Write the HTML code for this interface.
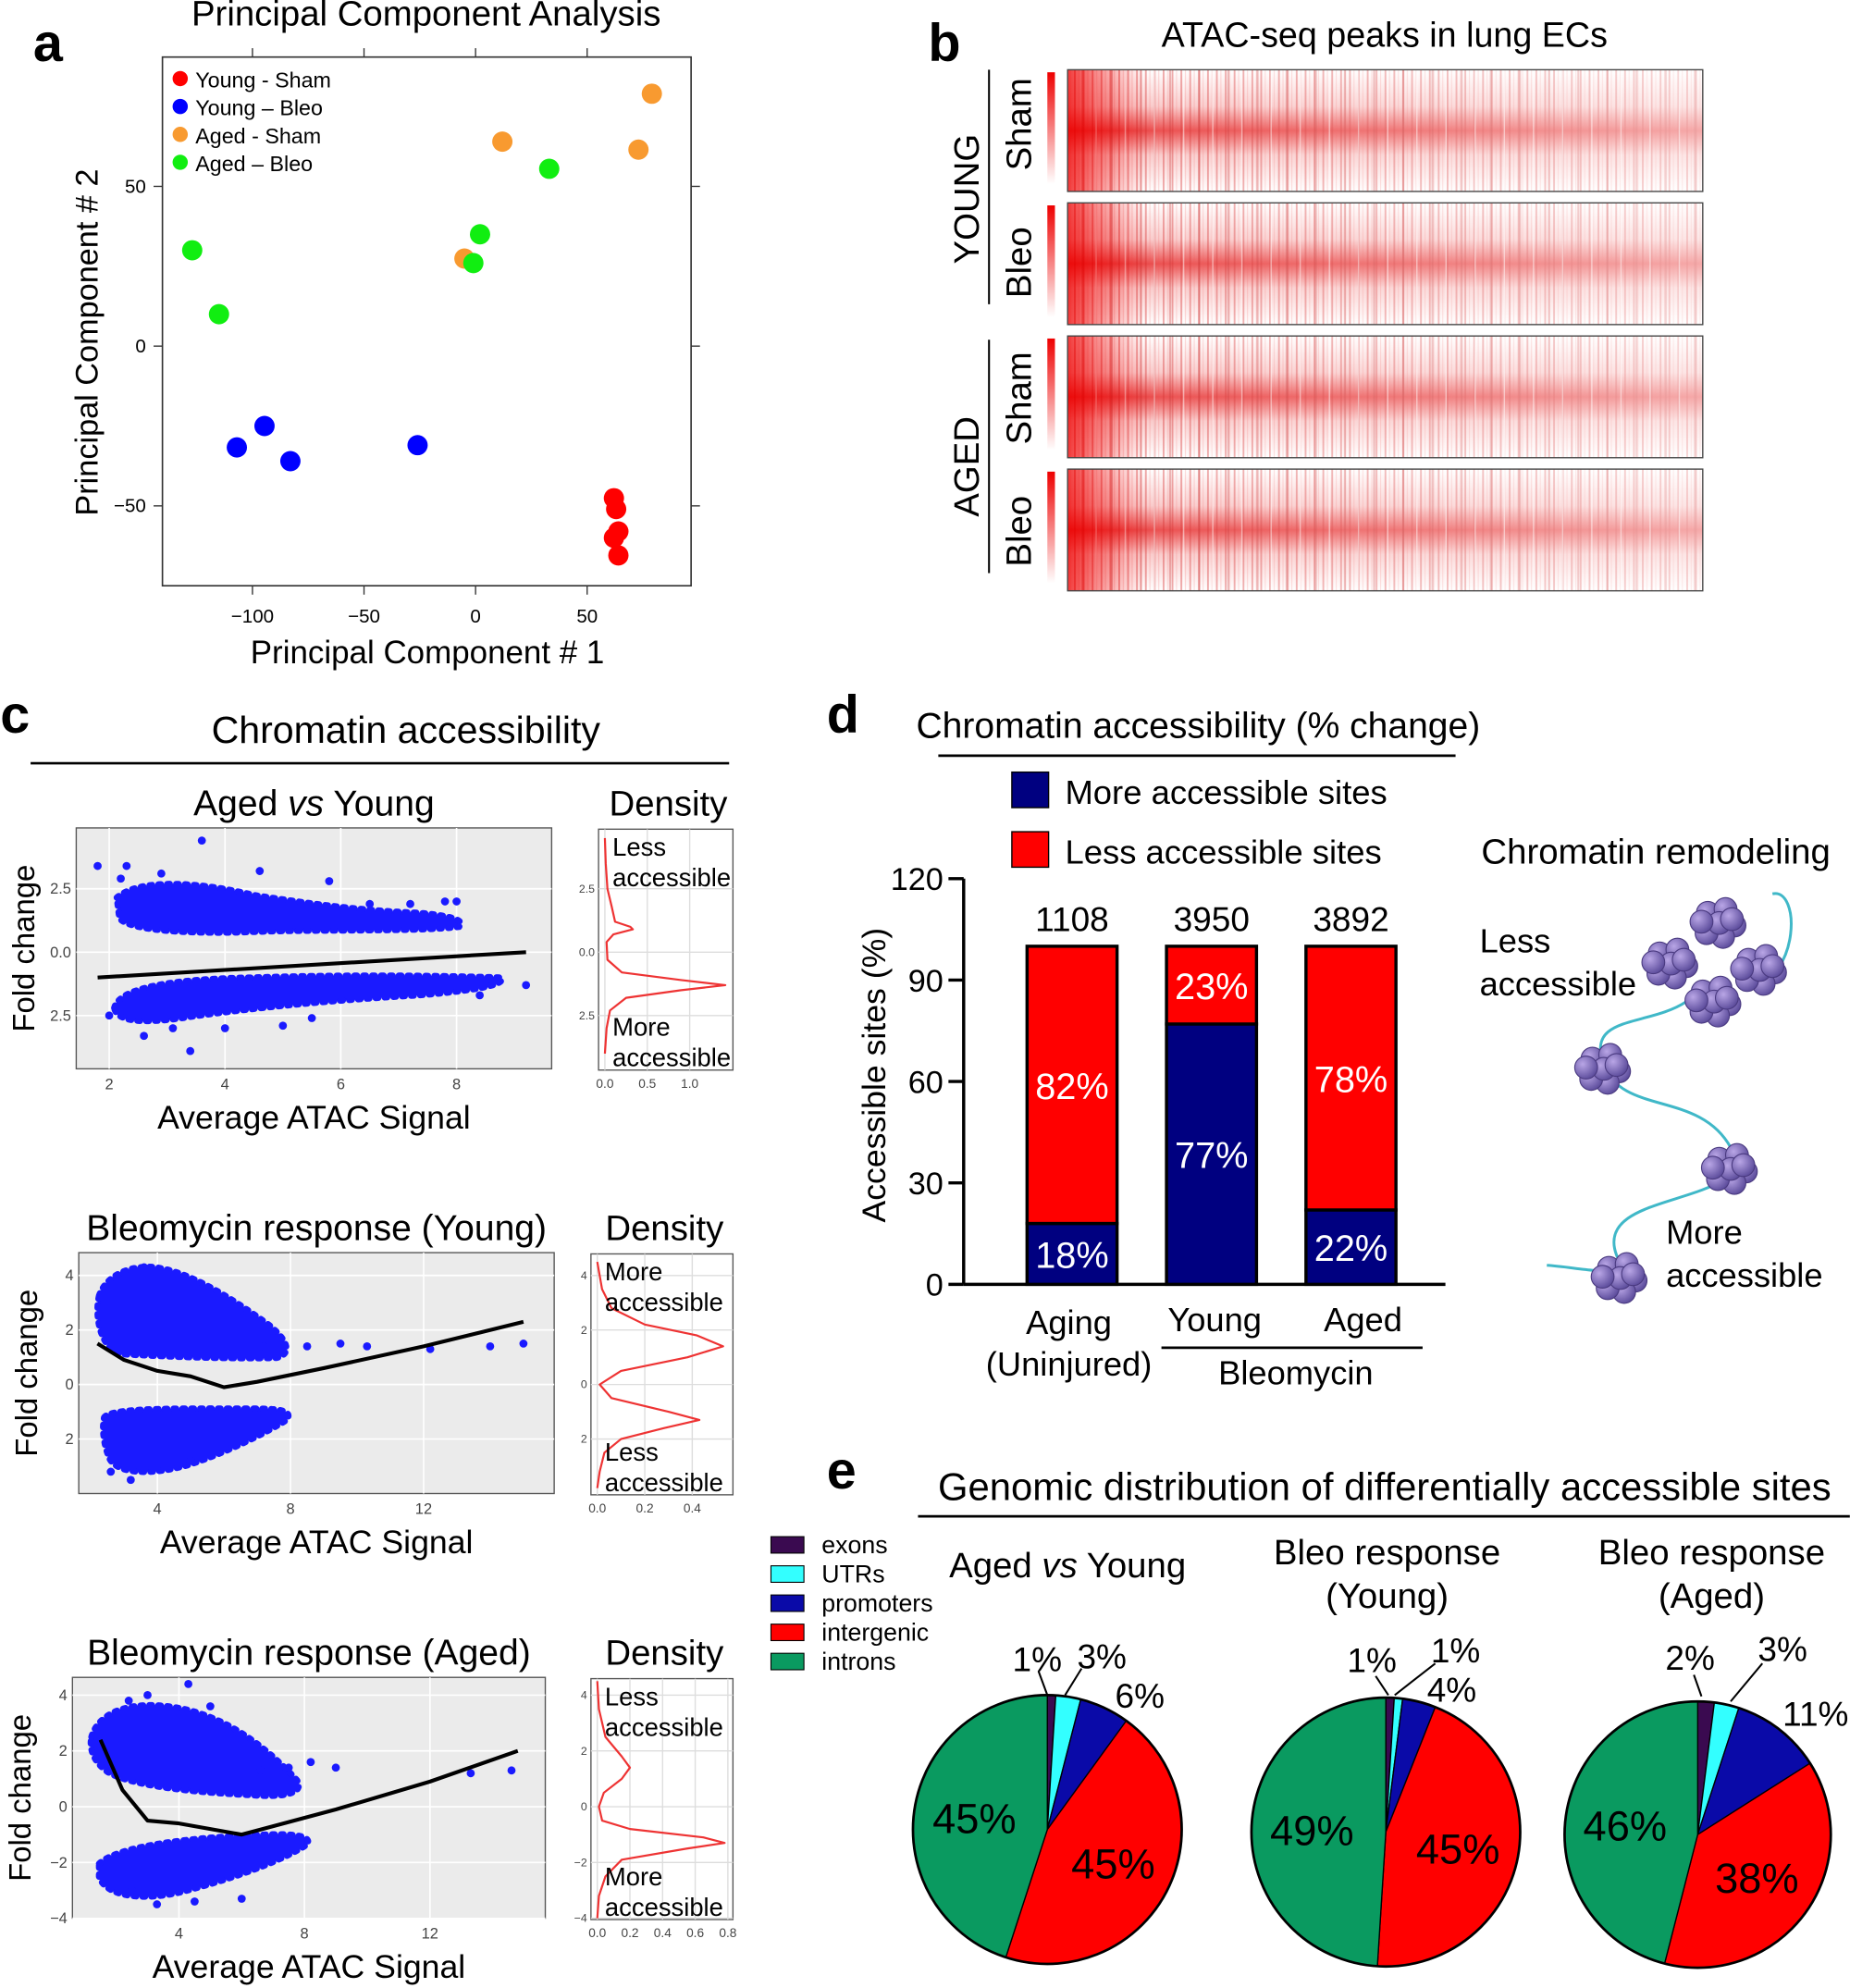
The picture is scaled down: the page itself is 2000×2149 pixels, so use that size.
<!DOCTYPE html>
<html><head><meta charset="utf-8">
<style>
html,body{margin:0;padding:0;background:#fff;}
svg{display:block;font-family:"Liberation Sans",Arial,sans-serif;}
</style></head>
<body>
<svg id="fig" xmlns="http://www.w3.org/2000/svg" width="2000" height="2149" viewBox="0 0 1459 1568">
<defs>
  <linearGradient id="hmV" x1="0" y1="0" x2="0" y2="1">
    <stop offset="0" stop-color="#fff"/>
    <stop offset="0.3" stop-color="#f8c0c0"/>
    <stop offset="0.5" stop-color="#e62828"/>
    <stop offset="0.7" stop-color="#f8c0c0"/>
    <stop offset="1" stop-color="#fff"/>
  </linearGradient>
  <linearGradient id="hmH" x1="0" y1="0" x2="1" y2="0">
    <stop offset="0" stop-color="#fff" stop-opacity="0"/>
    <stop offset="0.15" stop-color="#fff" stop-opacity="0.2"/>
    <stop offset="1" stop-color="#fff" stop-opacity="0.6"/>
  </linearGradient>
  <linearGradient id="hmLeft" x1="0" y1="0" x2="1" y2="0">
    <stop offset="0" stop-color="#e00" stop-opacity="0.75"/>
    <stop offset="0.5" stop-color="#e00" stop-opacity="0.35"/>
    <stop offset="1" stop-color="#e00" stop-opacity="0"/>
  </linearGradient>
  <pattern id="stripes" width="7" height="10" patternUnits="userSpaceOnUse">
    <rect x="0" y="0" width="1.4" height="10" fill="#c00" opacity="0.4"/>
    <rect x="3.5" y="0" width="0.8" height="10" fill="#e22" opacity="0.2"/>
  </pattern>
  <pattern id="stripes2" width="23" height="10" patternUnits="userSpaceOnUse">
    <rect x="2" y="0" width="1.6" height="10" fill="#b00" opacity="0.35"/>
    <rect x="13" y="0" width="1" height="10" fill="#fff" opacity="0.5"/>
  </pattern>
  <linearGradient id="leftCol" x1="0" y1="0" x2="0" y2="1">
    <stop offset="0" stop-color="#e00"/><stop offset="1" stop-color="#fff"/>
  </linearGradient>
  <radialGradient id="nuc" cx="0.35" cy="0.35" r="0.7">
    <stop offset="0" stop-color="#b9a6e6"/><stop offset="1" stop-color="#5a4a9a"/>
  </radialGradient>
</defs>

<!-- ============ Panel a ============ -->
<text x="26" y="48" font-size="42" font-weight="bold">a</text>
<text x="336" y="20" font-size="28" text-anchor="middle">Principal Component Analysis</text>
<rect x="128" y="45" width="417" height="417" fill="none" stroke="#333" stroke-width="1.2"/>
<g id="pcaAxes"></g>
<g id="pcaPoints"></g>
<text x="337" y="523" font-size="25.5" text-anchor="middle">Principal Component # 1</text>
<text transform="translate(77,270) rotate(-90)" font-size="25" text-anchor="middle">Principal Component # 2</text>
<g font-size="17">
  <circle cx="142" cy="62" r="6" fill="#f00"/><text x="154" y="69">Young - Sham</text>
  <circle cx="142" cy="84" r="6" fill="#00f"/><text x="154" y="91">Young – Bleo</text>
  <circle cx="142" cy="106" r="6" fill="#f89a30"/><text x="154" y="113">Aged - Sham</text>
  <circle cx="142" cy="128" r="6" fill="#1e1"/><text x="154" y="135">Aged – Bleo</text>
</g>

<!-- ============ Panel b ============ -->
<text x="732" y="48" font-size="42" font-weight="bold">b</text>
<text x="1092" y="37" font-size="27.5" text-anchor="middle">ATAC-seq peaks in lung ECs</text>
<g id="heatmaps"></g>
<line x1="780" y1="55" x2="780" y2="240" stroke="#000" stroke-width="1.5"/>
<line x1="780" y1="268" x2="780" y2="452" stroke="#000" stroke-width="1.5"/>
<text transform="translate(772,157) rotate(-90)" font-size="28" text-anchor="middle">YOUNG</text>
<text transform="translate(772,368) rotate(-90)" font-size="28" text-anchor="middle">AGED</text>
<text transform="translate(813,98) rotate(-90)" font-size="28" text-anchor="middle">Sham</text>
<text transform="translate(813,207) rotate(-90)" font-size="28" text-anchor="middle">Bleo</text>
<text transform="translate(813,314) rotate(-90)" font-size="28" text-anchor="middle">Sham</text>
<text transform="translate(813,419) rotate(-90)" font-size="28" text-anchor="middle">Bleo</text>

<!-- ============ Panel c ============ -->
<text x="0" y="578" font-size="42" font-weight="bold">c</text>
<text x="320" y="586" font-size="30" text-anchor="middle">Chromatin accessibility</text>
<line x1="24" y1="602" x2="575" y2="602" stroke="#000" stroke-width="2"/>
<g id="maPlots"></g>

<!-- ============ Panel d ============ -->
<text x="652" y="578" font-size="42" font-weight="bold">d</text>
<text x="945" y="582" font-size="28.5" text-anchor="middle">Chromatin accessibility (% change)</text>
<line x1="740" y1="596" x2="1148" y2="596" stroke="#000" stroke-width="2"/>
<rect x="798" y="609" width="29" height="28" fill="#000080" stroke="#000"/>
<text x="840" y="634" font-size="26.6">More accessible sites</text>
<rect x="798" y="656" width="29" height="28" fill="#f00" stroke="#000"/>
<text x="840" y="681" font-size="26.6">Less accessible sites</text>
<g id="barChart"></g>
<text transform="translate(698,848) rotate(-90)" font-size="26" text-anchor="middle">Accessible sites (%)</text>
<text x="843" y="1052" font-size="26.5" text-anchor="middle">Aging</text>
<text x="843" y="1085" font-size="26.5" text-anchor="middle">(Uninjured)</text>
<text x="958" y="1050" font-size="26.5" text-anchor="middle">Young</text>
<text x="1075" y="1050" font-size="26.5" text-anchor="middle">Aged</text>
<line x1="916" y1="1063" x2="1122" y2="1063" stroke="#000" stroke-width="2"/>
<text x="1022" y="1092" font-size="26.5" text-anchor="middle">Bleomycin</text>

<!-- remodeling illustration -->
<text x="1306" y="681" font-size="28" text-anchor="middle">Chromatin remodeling</text>
<text x="1167" y="751" font-size="26.5">Less</text>
<text x="1167" y="785" font-size="26.5">accessible</text>
<text x="1314" y="981" font-size="26.5">More</text>
<text x="1314" y="1015" font-size="26.5">accessible</text>
<path d="M1398,705 C1420,700 1420,770 1380,780 M1330,790 C1300,810 1250,800 1265,840 C1280,880 1340,860 1365,905 M1360,930 C1330,950 1260,950 1275,990 C1285,1010 1250,1000 1220,998" fill="none" stroke="#40b8c8" stroke-width="2.2"/>
<g id="nucleosomes"></g>

<!-- ============ Panel e ============ -->
<text x="652" y="1174" font-size="42" font-weight="bold">e</text>
<text x="1092" y="1183" font-size="30.5" text-anchor="middle">Genomic distribution of differentially accessible sites</text>
<line x1="724" y1="1196" x2="1459" y2="1196" stroke="#000" stroke-width="2"/>
<g id="pieLegend"></g>
<text x="842" y="1244" font-size="28" text-anchor="middle">Aged <tspan font-style="italic">vs</tspan> Young</text>
<text x="1094" y="1234" font-size="28" text-anchor="middle">Bleo response</text>
<text x="1094" y="1268" font-size="28" text-anchor="middle">(Young)</text>
<text x="1350" y="1234" font-size="28" text-anchor="middle">Bleo response</text>
<text x="1350" y="1268" font-size="28" text-anchor="middle">(Aged)</text>
<g id="pies"></g>
</svg>

<script>
// ---------------- data ----------------
const pcaYoungShamX = [62, 63, 64, 62, 64];
const pcaYoungShamY = [-47.6, -51, -58, -60, -65.5];
const pcaYoungBleoX = [-107, -94.6, -83, -26];
const pcaYoungBleoY = [-31.7, -25, -36, -31];
const pcaAgedShamX = [79, 12, 73, -5];
const pcaAgedShamY = [79, 64, 61.5, 27.4];
const pcaAgedBleoX = [-127, -115, 33, 2, -1];
const pcaAgedBleoY = [30, 10, 55.5, 35, 26];
const pcaXTicks = [-100, -50, 0, 50];
const pcaYTicks = [-50, 0, 50];

const barCategories = ["Aging (Uninjured)", "Young", "Aged"];
const barMore = [18, 77, 22];
const barLess = [82, 23, 78];
const barTotals = ["1108", "3950", "3892"];
const barYTicks = [0, 30, 60, 90, 120];

const pieCategories = ["exons", "UTRs", "promoters", "intergenic", "introns"];
const pieAgedVsYoung = [1, 3, 6, 45, 45];
const pieBleoYoung = [1, 1, 4, 45, 49];
const pieBleoAged = [2, 3, 11, 38, 46];

// density curves (fold change value, density)
const dens1Y = [4.5, 3.5, 2.5, 1.8, 1.2, 1.0, 0.9, 0.7, 0.4, -0.3, -0.8, -1.1, -1.3, -1.5, -1.8, -2.3, -3.0, -4.0];
const dens1D = [0.0, 0.01, 0.03, 0.08, 0.12, 0.3, 0.33, 0.1, 0.02, 0.03, 0.2, 0.9, 1.42, 0.9, 0.25, 0.06, 0.02, 0.0];
const dens2Y = [4.5, 3.5, 2.8, 2.2, 1.8, 1.4, 1.0, 0.5, 0.0, -0.5, -1.0, -1.3, -1.6, -2.0, -2.5, -3.2, -3.8];
const dens2D = [0.0, 0.02, 0.06, 0.2, 0.42, 0.53, 0.38, 0.1, 0.01, 0.06, 0.3, 0.43, 0.28, 0.1, 0.03, 0.01, 0.0];
const dens3Y = [4.5, 3.5, 2.5, 1.8, 1.4, 1.0, 0.5, 0.0, -0.5, -0.8, -1.1, -1.3, -1.5, -1.9, -2.5, -3.2, -4.0];
const dens3D = [0.0, 0.01, 0.05, 0.15, 0.2, 0.15, 0.04, 0.01, 0.03, 0.2, 0.65, 0.78, 0.55, 0.15, 0.05, 0.01, 0.0];

// MA plot outliers (average signal, fold change)
const ma1OutX = [1.8, 2.3, 3.6, 4.6, 5.8, 7.8, 8.0, 9.2, 3.4, 2.6, 4.0, 5.0, 2.2, 2.9, 6.5, 7.2, 3.1, 5.5, 8.4, 2.0];
const ma1OutY = [3.4, 3.4, 4.4, 3.2, 2.8, 2.0, 2.0, -1.3, -3.9, -3.3, -3.0, -2.9, 2.9, 3.1, 1.9, 1.9, -3.0, -2.6, -1.7, -2.5];
const ma2OutX = [7.2, 8.5, 9.5, 10.3, 12.2, 14.0, 15.0, 3.0, 3.6, 2.6, 4.2, 3.2, 5.0];
const ma2OutY = [1.4, 1.4, 1.5, 1.4, 1.3, 1.4, 1.5, 4.1, 4.3, -3.2, -3.0, -3.5, -2.8];
const ma3OutX = [6.6, 7.5, 8.2, 9.0, 13.3, 14.6, 4.3, 3.3, 6.0, 2.4, 3.0, 5.0, 2.5, 4.5];
const ma3OutY = [1.3, 1.4, 1.6, 1.4, 1.2, 1.3, 4.4, -3.5, -3.3, 3.8, 4.0, 3.6, -3.0, -3.4];
// trend lines
const ma1TrendX = [1.8, 9.2];
const ma1TrendY = [-1.0, 0.0];
const ma2TrendX = [2.2, 3.0, 4.0, 5.0, 6.0, 7.0, 9.0, 12.0, 15.0];
const ma2TrendY = [1.5, 0.9, 0.5, 0.3, -0.1, 0.1, 0.6, 1.4, 2.3];
const ma3TrendX = [1.5, 2.2, 3.0, 4.0, 5.0, 6.0, 7.0, 9.0, 12.0, 14.8];
const ma3TrendY = [2.4, 0.6, -0.5, -0.6, -0.8, -1.0, -0.7, -0.1, 0.9, 2.0];

// ---------------- helpers ----------------
const NS = "http://www.w3.org/2000/svg";
function mk(tag, attrs, parent) {
  const e = document.createElementNS(NS, tag);
  for (const k in attrs) e.setAttribute(k, attrs[k]);
  if (parent) parent.appendChild(e);
  return e;
}
function txt(s, attrs, parent) { const t = mk("text", attrs, parent); t.textContent = s; return t; }
function lin(d0, d1, r0, r1) { return v => r0 + (v - d0) * (r1 - r0) / (d1 - d0); }

// ---------------- PCA ----------------
(function () {
  const sx = lin(0, 50, 375, 463), sy = lin(0, 50, 273, 147);
  const ax = document.getElementById("pcaAxes");
  pcaXTicks.forEach(v => {
    const x = sx(v);
    const l = mk("line", { x1: x, y1: 462, x2: x, y2: 469, stroke: "#333" }, ax);
    
    
    mk("line", { x1: x, y1: 45, x2: x, y2: 38, stroke: "#333" }, ax);
    const t = txt(String(v).replace("-", "−"), { x: x, y: 491, "font-size": 15, "text-anchor": "middle" }, ax);
    
    
  });
  pcaYTicks.forEach(v => {
    const y = sy(v);
    mk("line", { x1: 128, y1: y, x2: 121, y2: y, stroke: "#333" }, ax);
    mk("line", { x1: 545, y1: y, x2: 552, y2: y, stroke: "#333" }, ax);
    const t = txt(String(v).replace("-", "−"), { x: 115, y: y + 5, "font-size": 15, "text-anchor": "end" }, ax);
    
    
  });
  const g = document.getElementById("pcaPoints");
  function series(xs, ys, col, name) {
    xs.forEach((xv, i) => {
      const c = mk("circle", { cx: sx(xv), cy: sy(ys[i]), r: 8, fill: col }, g);
      
      
    });
  }
  series(pcaYoungShamX, pcaYoungShamY, "#f00", "point-young-sham");
  series(pcaYoungBleoX, pcaYoungBleoY, "#00f", "point-young-bleo");
  series(pcaAgedShamX, pcaAgedShamY, "#f89a30", "point-aged-sham");
  series(pcaAgedBleoX, pcaAgedBleoY, "#1e1", "point-aged-bleo");
})();

// ---------------- heatmaps ----------------
(function () {
  const g = document.getElementById("heatmaps");
  const tops = [55, 160, 265, 370];
  const names = ["heatmap-young-sham", "heatmap-young-bleo", "heatmap-aged-sham", "heatmap-aged-bleo"];
  tops.forEach((t, i) => {
    const h = 96;
    const grp = mk("g", {}, g);
    
    
    mk("rect", { x: 826, y: t + 2, width: 6, height: h - 8, fill: "url(#leftCol)" }, grp);
    mk("rect", { x: 842, y: t, width: 501, height: h, fill: "url(#hmV)" }, grp);
    mk("rect", { x: 842, y: t, width: 501, height: h, fill: "url(#stripes)" }, grp);
    mk("rect", { x: 842, y: t, width: 501, height: h, fill: "url(#stripes2)" }, grp);
    mk("rect", { x: 842, y: t, width: 501, height: h, fill: "url(#hmH)" }, grp);
    mk("rect", { x: 842, y: t, width: 60, height: h, fill: "url(#hmLeft)" }, grp);
    mk("rect", { x: 842, y: t, width: 501, height: h, fill: "none", stroke: "#444", "stroke-width": 1 }, grp);
  });
})();

// ---------------- MA plots ----------------
function maPlot(cfg) {
  const g = mk("g", {}, document.getElementById("maPlots"));
  
  
  const { x0, y0, w, h } = cfg;
  mk("rect", { x: x0, y: y0, width: w, height: h, fill: "#ebebeb", stroke: "#555" }, g);
  const sx = lin(cfg.xd[0], cfg.xd[1], cfg.xp[0], cfg.xp[1]);
  const sy = lin(cfg.yd[0], cfg.yd[1], cfg.yp[0], cfg.yp[1]);
  cfg.xt.forEach(v => {
    mk("line", { x1: sx(v), y1: y0, x2: sx(v), y2: y0 + h, stroke: "#fff", "stroke-width": 1.2 }, g);
    const t = txt(String(v), { x: sx(v), y: y0 + h + 16, "font-size": 12, "text-anchor": "middle", fill: "#444" }, g);
    
    
  });
  cfg.yt.forEach((v, i) => {
    mk("line", { x1: x0, y1: sy(v), x2: x0 + w, y2: sy(v), stroke: "#fff", "stroke-width": 1.2 }, g);
    const t = txt(cfg.ytl[i], { x: x0 - 4, y: sy(v) + 4, "font-size": 12, "text-anchor": "end", fill: "#444" }, g);
    
    
  });
  cfg.clouds.forEach(d => {
    const p = mk("path", { d: d, fill: "#1a1aff", stroke: "#1a1aff", "stroke-width": 5, "stroke-dasharray": "2 5", "stroke-linecap": "round" }, g);
    
    
  });
  cfg.ox.forEach((xv, i) => {
    const c = mk("circle", { cx: sx(xv), cy: sy(cfg.oy[i]), r: 3.2, fill: "#1a1aff" }, g);
    
    
  });
  const pts = cfg.tx.map((xv, i) => sx(xv) + "," + sy(cfg.ty[i])).join(" ");
  const tl = mk("polyline", { points: pts, fill: "none", stroke: "#000", "stroke-width": 3, "stroke-linejoin": "round" }, g);
  
  
  const tt = txt("", { x: x0 + w / 2, y: y0 - 10, "font-size": 28.5, "text-anchor": "middle" }, g);
  tt.innerHTML = cfg.title;
  
  
  const xl = txt("Average ATAC Signal", { x: x0 + w / 2, y: y0 + h + 47, "font-size": 26, "text-anchor": "middle" }, g);
  
  
  const yl = txt("Fold change", { transform: `translate(${x0 - 33},${y0 + h / 2}) rotate(-90)`, "font-size": 24, "text-anchor": "middle" }, g);
  
  

  const D = cfg.dens;
  const dg = mk("g", {}, g);
  
  
  mk("rect", { x: D.x0, y: y0 + 1, width: D.w, height: h, fill: "#fff", stroke: "#555" }, dg);
  const dsx = lin(0, D.xmax, D.x0 + 5, D.x0 + D.w - 4);
  D.xt.forEach(v => {
    mk("line", { x1: dsx(v), y1: y0 + 1, x2: dsx(v), y2: y0 + h + 1, stroke: "#ddd" }, dg);
    txt(v.toFixed(1), { x: dsx(v), y: y0 + h + 15, "font-size": 10, "text-anchor": "middle", fill: "#444" }, dg);
  });
  cfg.yt.forEach((v, i) => {
    mk("line", { x1: D.x0, y1: sy(v), x2: D.x0 + D.w, y2: sy(v), stroke: "#ddd" }, dg);
    txt(cfg.ytl[i], { x: D.x0 - 3, y: sy(v) + 3, "font-size": 9, "text-anchor": "end", fill: "#444" }, dg);
  });
  const dp = D.ys.map((yv, i) => dsx(D.ds[i]) + "," + sy(yv)).join(" ");
  const dl = mk("polyline", { points: dp, fill: "none", stroke: "#e33", "stroke-width": 1.6, "stroke-linejoin": "round" }, dg);
  
  
  txt("Density", { x: D.x0 + D.w / 2 + 2, y: y0 - 10, "font-size": 28, "text-anchor": "middle" }, dg);
  txt(D.top[0], { x: D.x0 + 11, y: y0 + 22, "font-size": 20 }, dg);
  txt(D.top[1], { x: D.x0 + 11, y: y0 + 46, "font-size": 20 }, dg);
  txt(D.bot[0], { x: D.x0 + 11, y: y0 + h - 26, "font-size": 20 }, dg);
  txt(D.bot[1], { x: D.x0 + 11, y: y0 + h - 2, "font-size": 20 }, dg);
}

maPlot({
  name: "ma-plot-aged-vs-young", x0: 60, y0: 653, w: 375, h: 190,
  xd: [2, 8], xp: [86, 360], yd: [0, 2.5], yp: [751, 701],
  xt: [2, 4, 6, 8], yt: [2.5, 0, -2.5], ytl: ["2.5", "0.0", "2.5"],
  title: 'Aged <tspan font-style="italic">vs</tspan> Young',
  clouds: [
    "M92,708 C110,692 160,696 200,706 C240,712 280,718 330,720 C355,722 368,726 362,731 C330,735 250,733 200,735 C150,737 100,734 94,724 Z",
    "M90,795 C94,778 140,772 200,771 C260,769 330,769 395,771 C400,776 380,781 330,785 C260,789 200,795 150,802 C112,808 92,806 90,795 Z"
  ],
  ox: ma1OutX, oy: ma1OutY, tx: ma1TrendX, ty: ma1TrendY,
  dens: { x0: 472, w: 106, xmax: 1.45, xt: [0, 0.5, 1.0], ys: dens1Y, ds: dens1D,
          top: ["Less", "accessible"], bot: ["More", "accessible"] }
});
maPlot({
  name: "ma-plot-bleo-young", x0: 62, y0: 988, w: 375, h: 190,
  xd: [4, 8], xp: [124, 229], yd: [0, 2], yp: [1092, 1049],
  xt: [4, 8, 12], yt: [4, 2, 0, -2], ytl: ["4", "2", "0", "2"],
  title: 'Bleomycin response (Young)',
  clouds: [
    "M78,1022 C85,1002 110,997 125,1000 C150,1004 180,1022 212,1045 C228,1058 230,1068 218,1071 C180,1072 130,1070 95,1068 C80,1064 74,1040 78,1022 Z",
    "M82,1118 C87,1110 140,1111 200,1111 C226,1111 230,1114 226,1120 C210,1130 180,1145 150,1155 C120,1164 92,1163 86,1150 C82,1140 80,1128 82,1118 Z"
  ],
  ox: ma2OutX, oy: ma2OutY, tx: ma2TrendX, ty: ma2TrendY,
  dens: { x0: 466, w: 112, xmax: 0.55, xt: [0, 0.2, 0.4], ys: dens2Y, ds: dens2D,
          top: ["More", "accessible"], bot: ["Less", "accessible"] }
});
maPlot({
  name: "ma-plot-bleo-aged", x0: 57, y0: 1323, w: 373, h: 190,
  xd: [4, 8], xp: [141, 240], yd: [0, 2], yp: [1425, 1381],
  xt: [4, 8, 12], yt: [4, 2, 0, -2, -4], ytl: ["4", "2", "0", "−2", "−4"],
  title: 'Bleomycin response (Aged)',
  clouds: [
    "M72,1370 C77,1352 100,1340 140,1347 C180,1354 212,1380 234,1404 C240,1413 228,1418 200,1416 C160,1414 110,1410 87,1399 C74,1391 70,1380 72,1370 Z",
    "M78,1470 C92,1456 150,1449 210,1447 C236,1446 246,1449 242,1455 C220,1469 180,1483 140,1493 C107,1500 82,1494 78,1480 Z"
  ],
  ox: ma3OutX, oy: ma3OutY, tx: ma3TrendX, ty: ma3TrendY,
  dens: { x0: 466, w: 112, xmax: 0.8, xt: [0, 0.2, 0.4, 0.6, 0.8], ys: dens3Y, ds: dens3D,
          top: ["Less", "accessible"], bot: ["More", "accessible"] }
});

// ---------------- bar chart ----------------
(function () {
  const g = document.getElementById("barChart");
  const sy = lin(0, 120, 1013, 693);
  mk("line", { x1: 760, y1: sy(0), x2: 760, y2: sy(120), stroke: "#000", "stroke-width": 2.5 }, g);
  mk("line", { x1: 760, y1: sy(0), x2: 1140, y2: sy(0), stroke: "#000", "stroke-width": 2.5 }, g);
  barYTicks.forEach(v => {
    mk("line", { x1: 748, y1: sy(v), x2: 760, y2: sy(v), stroke: "#000", "stroke-width": 2.5 }, g);
    const t = txt(String(v), { x: 744, y: sy(v) + 9, "font-size": 25, "text-anchor": "end" }, g);
    
    
  });
  const xs = [810, 920, 1030], bw = 71;
  barCategories.forEach((c, i) => {
    const x = xs[i];
    const m = mk("rect", { x: x, y: sy(barMore[i]), width: bw, height: sy(0) - sy(barMore[i]), fill: "#000080", stroke: "#000", "stroke-width": 2.5 }, g);
    
    
    const top = barMore[i] + barLess[i];
    const l = mk("rect", { x: x, y: sy(top), width: bw, height: sy(barMore[i]) - sy(top), fill: "#f00", stroke: "#000", "stroke-width": 2.5 }, g);
    
    
    const cx = x + bw / 2;
    txt(barLess[i] + "%", { x: cx, y: (sy(top) + sy(barMore[i])) / 2 + 11, "font-size": 29, fill: "#fff", "text-anchor": "middle" }, g);
    txt(barMore[i] + "%", { x: cx, y: (sy(0) + sy(barMore[i])) / 2 + 11, "font-size": 29, fill: "#fff", "text-anchor": "middle" }, g);
    const tt = txt(barTotals[i], { x: cx, y: sy(top) - 12, "font-size": 27, "text-anchor": "middle" }, g);
    
    
  });
})();

// ---------------- nucleosomes ----------------
(function () {
  const g = document.getElementById("nucleosomes");
  const clusters = [[1356, 728], [1318, 760], [1388, 765], [1352, 790], [1265, 843], [1365, 922], [1278, 1008]];
  clusters.forEach(([cx, cy]) => {
    const offs = [[-9, -8], [5, -11], [12, 2], [3, 11], [-10, 8], [0, 0], [-14, -1], [10, -3]];
    offs.forEach(([dx, dy]) => {
      mk("circle", { cx: cx + dx, cy: cy + dy, r: 9, fill: "url(#nuc)", stroke: "#4a3a80", "stroke-width": 0.8 }, g);
    });
  });
})();

// ---------------- pies ----------------
(function () {
  const colors = ["#3a0a50", "#33ffff", "#0a0aa8", "#f00", "#0a9a60"];
  const lg = document.getElementById("pieLegend");
  pieCategories.forEach((c, i) => {
    const y = 1212 + i * 23;
    mk("rect", { x: 608, y: y, width: 26, height: 13, fill: colors[i], stroke: "#000", "stroke-width": 0.8 }, lg);
    const t = txt(c, { x: 648, y: y + 13, "font-size": 19.5 }, lg);
    
    
  });
  const g = document.getElementById("pies");
  const pies = [
    { vals: pieAgedVsYoung, cx: 826, cy: 1443, r: 106, name: "pie-aged-vs-young" },
    { vals: pieBleoYoung, cx: 1093, cy: 1445, r: 106, name: "pie-bleo-young" },
    { vals: pieBleoAged, cx: 1339, cy: 1447, r: 105, name: "pie-bleo-aged" }
  ];
  pies.forEach(p => {
    const pg = mk("g", {}, g);
    
    
    const tot = p.vals.reduce((a, b) => a + b, 0);
    let a0 = 0;
    const pt = (a, r) => [p.cx + r * Math.sin(a), p.cy - r * Math.cos(a)];
    p.vals.forEach((v, i) => {
      const a1 = a0 + v / tot * 2 * Math.PI;
      const [x0, y0] = pt(a0, p.r), [x1, y1] = pt(a1, p.r);
      const large = (a1 - a0) > Math.PI ? 1 : 0;
      const s = mk("path", { d: `M${p.cx},${p.cy} L${x0},${y0} A${p.r},${p.r} 0 ${large} 1 ${x1},${y1} Z`, fill: colors[i], stroke: "#000", "stroke-width": 1 }, pg);
      
      
      const am = (a0 + a1) / 2;
      if (i >= 3) {
        const [lx, ly] = pt(am, p.r * 0.55);
        txt(v + "%", { x: lx, y: ly + 12, "font-size": 33, "text-anchor": "middle" }, pg);
      }
      a0 = a1;
    });
    mk("circle", { cx: p.cx, cy: p.cy, r: p.r, fill: "none", stroke: "#000", "stroke-width": 2 }, pg);
  });
  const small = [
    [pieAgedVsYoung[0], 818, 1318, 826, 1337, 819, 1318],
    [pieAgedVsYoung[1], 869, 1316, 840, 1337, 853, 1316],
    [pieAgedVsYoung[2], 899, 1347, null],
    [pieBleoYoung[0], 1082, 1319, 1095, 1337, 1085, 1322],
    [pieBleoYoung[1], 1148, 1311, 1100, 1337, 1132, 1312],
    [pieBleoYoung[2], 1145, 1342, null],
    [pieBleoAged[0], 1333, 1317, 1342, 1338, 1336, 1321],
    [pieBleoAged[1], 1406, 1310, 1365, 1342, 1390, 1312],
    [pieBleoAged[2], 1432, 1361, null]
  ];
  small.forEach(s => {
    const t = txt(s[0] + "%", { x: s[1], y: s[2], "font-size": 27, "text-anchor": "middle" }, g);
    
    
    if (s[3] !== null) mk("line", { x1: s[3], y1: s[4], x2: s[5], y2: s[6], stroke: "#000", "stroke-width": 1.5 }, g);
  });
})();
</script>
</body></html>
